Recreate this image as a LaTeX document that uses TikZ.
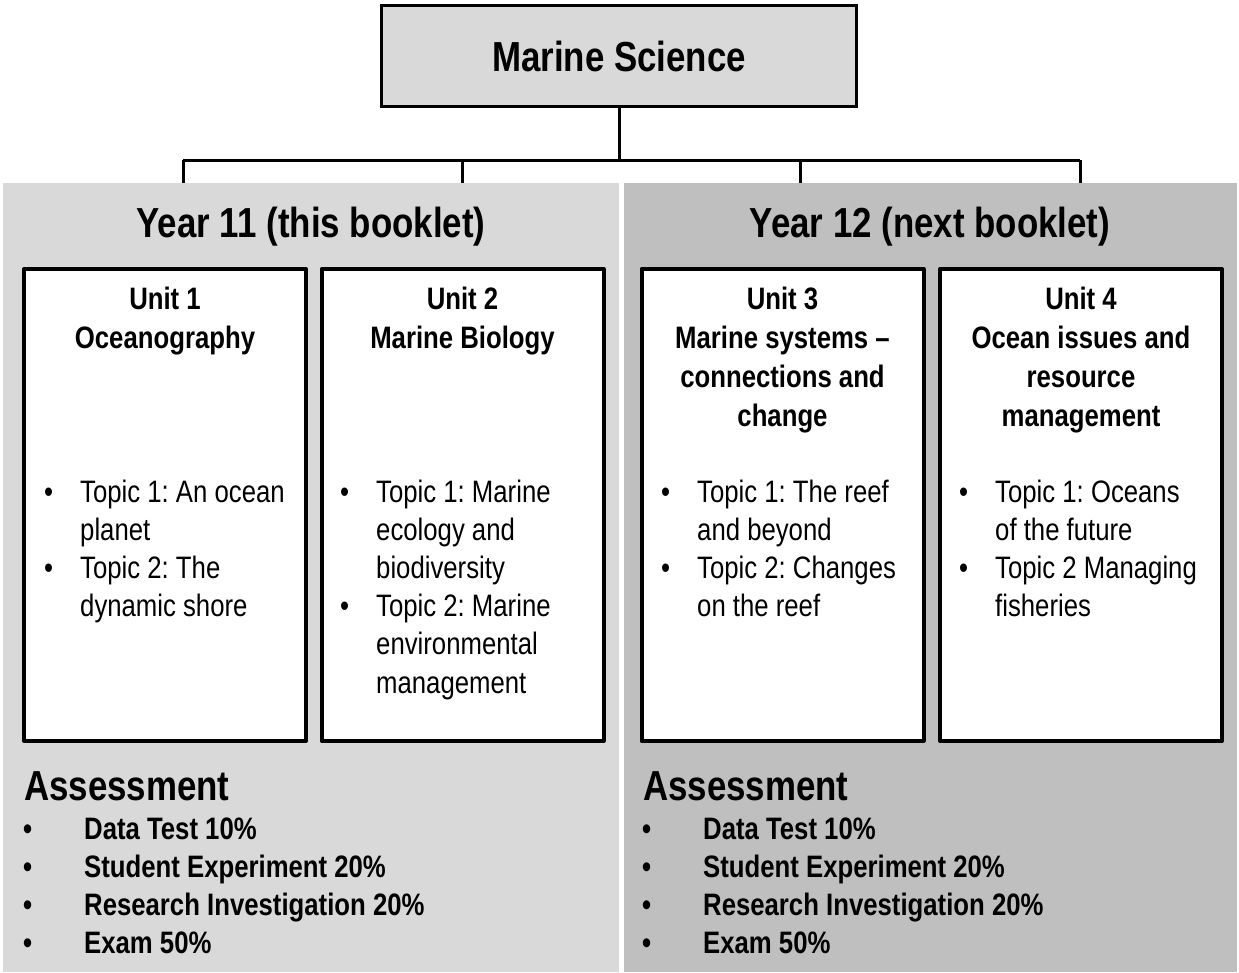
\documentclass[tikz,border=0pt]{standalone}
\usepackage{fontspec}
\setmainfont{Liberation Sans}[FakeStretch=0.83]
\usepackage{xcolor}
\usepackage{tikz}
\frenchspacing

\definecolor{paleg}{HTML}{D9D9D9}
\definecolor{darkg}{HTML}{BFBFBF}
% bullet line and continuation line
\newcommand{\itm}[2][36pt]{\makebox[#1][l]{\textbullet}#2}
\newcommand{\cnt}[2][36pt]{\hspace*{#1}#2}

\begin{document}
\begin{tikzpicture}[x=1pt,y=-1pt]
\tikzstyle{every node}+=[inner sep=0pt]
\tikzstyle{bigtxt}=[font=\fontsize{42}{48}\selectfont\bfseries]
\tikzstyle{unitbox}=[draw=black,line width=4pt,line join=round,fill=white,minimum width=282pt,minimum height=472pt]
\tikzstyle{unittitle}=[anchor=base,align=center,font=\fontsize{31}{39}\selectfont\bfseries]
\tikzstyle{topics}=[anchor=base west,align=left,font=\fontsize{31}{38.2}\selectfont]
\tikzstyle{assess}=[anchor=base west,align=left,font=\fontsize{31}{38.3}\selectfont\bfseries]
\useasboundingbox (0,0) rectangle (1239,972);
\fill [white] (0,0) rectangle (1239,972);
% tree
\node [draw=black,line width=3pt,fill=paleg,minimum width=475pt,minimum height=101pt,bigtxt] (ms) at (619,56) {Marine Science};
\coordinate (t1) at (183,160);
\coordinate (t2) at (462,160);
\coordinate (t3) at (800,160);
\coordinate (t4) at (1080,160);
\draw [line width=3pt] (ms.south) -- (ms.south |- t1);
\draw [line width=3pt] (t1) -- (t4);
\foreach \i in {1,2,3,4}
  \draw [line width=3pt] (t\i) -- ++(0,25);
% year panels
\fill [paleg] (3,183) rectangle (619,972);
\fill [darkg] (624,183) rectangle (1237,972);
\node [bigtxt,anchor=base] (y11) at (311,237) {Year 11 (this booklet)};
\node [bigtxt,anchor=base] (y12) at (930,237) {Year 12 (next booklet)};
% units (base = last line)
\node [unitbox] (u1) at (165,505) {};
\node [unitbox] (u2) at (462.5,505) {};
\node [unitbox] (u3) at (782.5,505) {};
\node [unitbox] (u4) at (1081,505) {};
\node [unittitle] (u1t) at (165,348) {Unit 1\\Oceanography};
\node [unittitle] (u2t) at (462.5,348) {Unit 2\\Marine Biology};
\node [unittitle] (u3t) at (782.5,426) {Unit 3\\Marine systems –\\connections and\\change};
\node [unittitle] (u4t) at (1081,426) {Unit 4\\Ocean issues and\\resource\\management};
\node [topics] (u1l) at (44,616.6) {\itm{Topic 1: An ocean}\\\cnt{planet}\\\itm{Topic 2: The}\\\cnt{dynamic shore}};
\node [topics] (u2l) at (340,693) {\itm{Topic 1: Marine}\\\cnt{ecology and}\\\cnt{biodiversity}\\\itm{Topic 2: Marine}\\\cnt{environmental}\\\cnt{management}};
\node [topics] (u3l) at (661,616.6) {\itm{Topic 1: The reef}\\\cnt{and beyond}\\\itm{Topic 2: Changes}\\\cnt{on the reef}};
\node [topics] (u4l) at (959,616.6) {\itm{Topic 1: Oceans}\\\cnt{of the future}\\\itm{Topic 2 Managing}\\\cnt{fisheries}};
% assessment
\node [bigtxt,anchor=base west] (a11) at (24,800) {Assessment};
\node [bigtxt,anchor=base west] (a12) at (643,800) {Assessment};
\node [assess] (a11l) at (23,953.9) {\itm[61pt]{Data Test 10\%}\\\itm[61pt]{Student Experiment 20\%}\\\itm[61pt]{Research Investigation 20\%}\\\itm[61pt]{Exam 50\%}};
\node [assess] (a12l) at (642,953.9) {\itm[61pt]{Data Test 10\%}\\\itm[61pt]{Student Experiment 20\%}\\\itm[61pt]{Research Investigation 20\%}\\\itm[61pt]{Exam 50\%}};
\end{tikzpicture}
\end{document}
